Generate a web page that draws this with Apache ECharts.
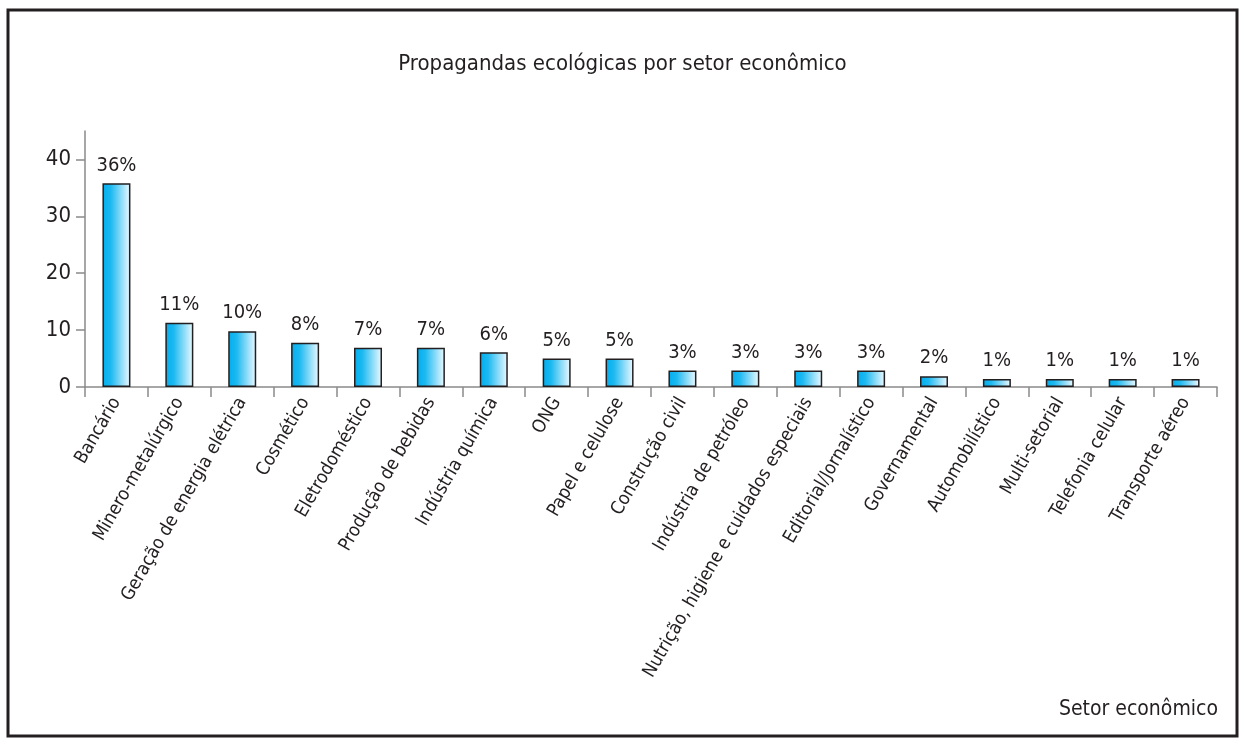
<!DOCTYPE html>
<html>
<head>
<meta charset="utf-8">
<script src="https://cdn.jsdelivr.net/npm/echarts@6/dist/echarts.min.js"></script>
<style>
html,body{margin:0;padding:0;background:#fff;}
#chart{width:1245px;height:744px;}
</style>
</head>
<body>
<div id="chart"></div>
<script>
var categories = ["Bancário","Minero-metalúrgico","Geração de energia elétrica","Cosmético","Eletrodoméstico","Produção de bebidas","Indústria química","ONG","Papel e celulose","Construção civil","Indústria de petróleo","Nutrição, higiene e cuidados especiais","Editorial/Jornalístico","Governamental","Automobilístico","Multi-setorial","Telefonia celular","Transporte aéreo"];
var values = [35.8, 11.3, 9.8, 7.8, 6.9, 6.9, 6.1, 5.0, 5.0, 2.9, 2.9, 2.9, 2.9, 1.9, 1.4, 1.4, 1.4, 1.4];
var valueLabels = ["36%","11%","10%","8%","7%","7%","6%","5%","5%","3%","3%","3%","3%","2%","1%","1%","1%","1%"];
var yTicks = [0, 10, 20, 30, 40];
var titleText = "Propagandas ecológicas por setor econômico";
var xAxisTitle = "Setor econômico";

var FONT = "'Liberation Sans Narrow','Arial Narrow','DejaVu Sans Condensed',sans-serif";
var chart = echarts.init(document.getElementById('chart'), null, {renderer:'canvas'});
chart.setOption({
  backgroundColor: '#fff',
  animation: false,
  title: [
    {text: titleText, left: 'center', top: 48, textStyle:{fontFamily:FONT, fontSize:22, fontWeight:'normal', color:'#231f20'}},
    {text: xAxisTitle, right: 22, top: 694, textStyle:{fontFamily:FONT, fontSize:21, fontWeight:'normal', color:'#231f20'}}
  ],
  graphic: [{
    type:'rect', silent:true,
    shape:{x:8, y:10, width:1229, height:726},
    style:{fill:'none', stroke:'#231f20', lineWidth:3}
  }],
  grid: {left: 85, right: 28, top: 131, bottom: 357, containLabel:false},
  xAxis: {
    type:'category', data: categories, boundaryGap:true,
    axisLine:{show:true, lineStyle:{color:'#8a8a8a', width:1.5}},
    axisTick:{show:true, length:10, lineStyle:{color:'#8a8a8a', width:1.5}},
    axisLabel:{interval:0, rotate:60, margin:12, fontFamily:FONT, fontSize:18.5, color:'#231f20'}
  },
  yAxis: {
    type:'value', min:0, max:45, interval:10,
    splitLine:{show:false},
    axisLine:{show:true, lineStyle:{color:'#8a8a8a', width:1.5}},
    axisTick:{show:true, inside:false, length:9, customValues: yTicks, lineStyle:{color:'#8a8a8a', width:1.5}},
    axisLabel:{customValues: yTicks, margin:14, fontFamily:FONT, fontSize:22, color:'#231f20'}
  },
  series: [{
    type:'bar', data: values, barWidth: 28,
    itemStyle:{
      color: new echarts.graphic.LinearGradient(0,0,1,0,[
        {offset:0, color:'#00aeef'},
        {offset:0.3, color:'#1db9f0'},
        {offset:1, color:'#effaff'}
      ]),
      borderColor:'#231f20', borderWidth:1.5
    },
    label:{
      show:true, position:'top', distance:8,
      fontFamily:FONT, fontSize:20, color:'#231f20',
      formatter: function(p){ return valueLabels[p.dataIndex]; }
    }
  }]
});
</script>
</body>
</html>
